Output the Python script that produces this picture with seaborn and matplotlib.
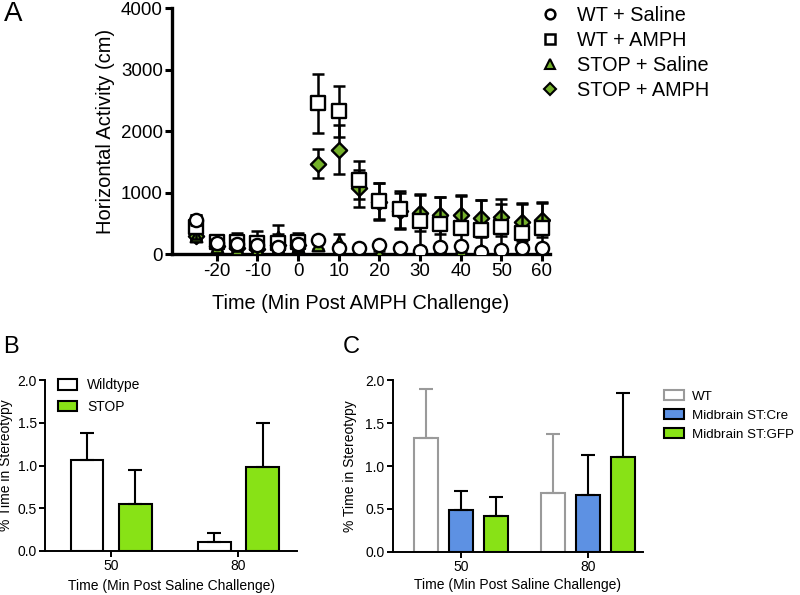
import matplotlib
matplotlib.use("Agg")
import matplotlib.pyplot as plt
import seaborn as sns
import pandas as pd
from matplotlib.lines import Line2D

sns.set_theme(style="ticks")
plt.rcParams['font.family'] = ['Liberation Sans', 'DejaVu Sans']
plt.rcParams['axes.unicode_minus'] = False
for key in ["text.color", "axes.labelcolor", "xtick.color", "ytick.color", "axes.edgecolor"]:
    plt.rcParams[key] = "black"

# ---- Panel A data (horizontal activity, cm) ----
time_min = [-25, -20, -15, -10, -5, 0, 5, 10, 15, 20, 25, 30, 35, 40, 45, 50, 55, 60]
wt_saline = [560, 180, 170, 140, 110, 170, 225, 100, 100, 150, 100, 50, 110, 130, 30, 65, 100, 100]
wt_saline_err = [80, 60, 60, 60, 60, 60, 40, 60, 30, 40, 30, 30, 30, 40, 30, 40, 40, 40]
wt_amph = [440, 200, 200, 180, 180, 200, 2450, 2320, 1200, 860, 730, 540, 490, 420, 390, 440, 340, 420]
wt_amph_err = [200, 100, 150, 190, 150, 150, 480, 420, 310, 290, 300, 420, 440, 530, 490, 370, 490, 410]
stop_saline = [300, 120, 80, 90, 270, 120, 150, 200, 80, 20, 60, 60, 80, 70, 60, 70, 80, 80]
stop_saline_err = [60, 60, 60, 60, 200, 60, 60, 120, 40, 30, 40, 40, 40, 40, 40, 40, 40, 40]
stop_amph = [290, 130, 100, 90, 150, 150, 1470, 1700, 1070, 850, 700, 670, 630, 640, 580, 600, 520, 560]
stop_amph_err = [60, 100, 80, 80, 100, 100, 240, 400, 300, 300, 300, 300, 300, 320, 300, 300, 300, 280]

# ---- Panel B data (% time in stereotypy) ----
b_times = ["50", "80"]
b_groups = ["Wildtype", "STOP"]
b_wt = [1.07, 0.10]
b_wt_err = [0.31, 0.11]
b_stop = [0.55, 0.98]
b_stop_err = [0.40, 0.52]

# ---- Panel C data ----
c_times = ["50", "80"]
c_groups = ["WT", "Midbrain ST:Cre", "Midbrain ST:GFP"]
c_wt = [1.33, 0.69]
c_wt_err = [0.57, 0.68]
c_cre = [0.49, 0.66]
c_cre_err = [0.22, 0.47]
c_gfp = [0.42, 1.10]
c_gfp_err = [0.22, 0.75]

green_a = "#74b02a"
green = "#88e216"
blue = "#5d91e3"
grey = "#9a9a9a"

fig = plt.figure(figsize=(8, 5.95), dpi=100)

# ================= Panel A =================
axA = fig.add_axes([0.215, 0.573, 0.4725, 0.4134])
series = [
    ("STOP + AMPH", stop_amph, stop_amph_err, "D", green_a, 60),
    ("STOP + Saline", stop_saline, stop_saline_err, "^", green_a, 70),
    ("WT + AMPH", wt_amph, wt_amph_err, "s", "white", 95),
    ("WT + Saline", wt_saline, wt_saline_err, "o", "white", 90),
]
for i, (name, vals, errs, mk, fc, sz) in enumerate(series):
    axA.errorbar(time_min, vals, yerr=errs, fmt="none", ecolor="black",
                 elinewidth=1.8, capsize=4.5, capthick=1.8, zorder=2 + i)
    df = pd.DataFrame({"t": time_min, "v": vals})
    sns.scatterplot(data=df, x="t", y="v", marker=mk, color=fc, s=sz,
                    edgecolor="black", linewidth=1.7, ax=axA, zorder=2.5 + i)

axA.set_xlim(-31, 62)
axA.set_ylim(0, 4000)
axA.set_xticks(range(-20, 61, 10))
axA.set_yticks(range(0, 4001, 1000))
axA.set_xlabel("Time (Min Post AMPH Challenge)", fontsize=14.3, labelpad=10)
axA.set_ylabel("Horizontal Activity (cm)", fontsize=14.5, labelpad=4)
axA.tick_params(labelsize=13.5, width=2.2, length=5, pad=1.5)
for side in ["top", "right"]:
    axA.spines[side].set_visible(False)
for side in ["left", "bottom"]:
    axA.spines[side].set_linewidth(2.4)

handles = [
    Line2D([], [], ls="none", marker="o", mfc="white", mec="black", mew=1.8, ms=7),
    Line2D([], [], ls="none", marker="s", mfc="white", mec="black", mew=1.8, ms=7),
    Line2D([], [], ls="none", marker="^", mfc=green_a, mec="black", mew=1.5, ms=7),
    Line2D([], [], ls="none", marker="D", mfc=green_a, mec="black", mew=1.5, ms=6),
]
fig.legend(handles, ["WT + Saline", "WT + AMPH", "STOP + Saline", "STOP + AMPH"],
           loc="upper left", bbox_to_anchor=(0.65, 1.02), frameon=False,
           fontsize=14.3, handletextpad=0.75, labelspacing=0.3, handlelength=1.2)

fig.text(0.005, 0.999, "A", fontsize=20, va="top")

# ================= Panel B =================
axB = fig.add_axes([0.05625, 0.074, 0.315, 0.287])
dfB = pd.DataFrame({
    "time": b_times * 2,
    "group": [b_groups[0]] * 2 + [b_groups[1]] * 2,
    "value": b_wt + b_stop,
})
sns.barplot(data=dfB, x="time", y="value", hue="group", hue_order=b_groups,
            palette={"Wildtype": "white", "STOP": green}, edgecolor="black",
            linewidth=1.5, width=0.76, gap=0.32, saturation=1, errorbar=None,
            legend=False, ax=axB)
for cont, errs in zip(axB.containers, [b_wt_err, b_stop_err]):
    for bar, e in zip(cont, errs):
        xc = bar.get_x() + bar.get_width() / 2
        axB.errorbar(xc, bar.get_height(), yerr=[[0], [e]], fmt="none", ecolor="black",
                     elinewidth=1.5, capsize=5, capthick=1.5, zorder=1)
axB.set_xlim(-0.52, 1.46)
axB.set_ylim(0, 2.0)
axB.set_yticks([0, 0.5, 1.0, 1.5, 2.0])
axB.set_yticklabels(["0.0", "0.5", "1.0", "1.5", "2.0"])
axB.set_xlabel("Time (Min Post Saline Challenge)", fontsize=10, labelpad=4)
axB.set_ylabel("% Time in Stereotypy", fontsize=10, labelpad=3)
axB.tick_params(labelsize=10, width=1.4, length=4, pad=2)
sns.despine(ax=axB)
for side in ["left", "bottom"]:
    axB.spines[side].set_linewidth(1.4)
axB.legend(axB.containers, b_groups, loc="upper left", bbox_to_anchor=(0.0, 1.085),
           frameon=False, fontsize=10, handlelength=1.4, handleheight=0.8,
           labelspacing=0.55, handletextpad=0.75)
fig.text(0.004, 0.435, "B", fontsize=17, va="top")

# ================= Panel C =================
axC = fig.add_axes([0.491, 0.0723, 0.3125, 0.289])
dfC = pd.DataFrame({
    "time": c_times * 3,
    "group": [g for g in c_groups for _ in c_times],
    "value": c_wt + c_cre + c_gfp,
})
sns.barplot(data=dfC, x="time", y="value", hue="group", hue_order=c_groups,
            palette={"WT": "white", "Midbrain ST:Cre": blue, "Midbrain ST:GFP": green},
            edgecolor="black", linewidth=1.5, width=0.825, gap=0.31, saturation=1,
            errorbar=None, legend=False, ax=axC)
for bar in axC.containers[0]:
    bar.set_edgecolor(grey)
for cont, errs, ec in zip(axC.containers, [c_wt_err, c_cre_err, c_gfp_err],
                          [grey, "black", "black"]):
    for bar, e in zip(cont, errs):
        xc = bar.get_x() + bar.get_width() / 2
        axC.errorbar(xc, bar.get_height(), yerr=[[0], [e]], fmt="none", ecolor=ec,
                     elinewidth=1.5, capsize=5, capthick=1.5, zorder=1)
axC.set_xlim(-0.54, 1.43)
axC.set_ylim(0, 2.0)
axC.set_yticks([0, 0.5, 1.0, 1.5, 2.0])
axC.set_yticklabels(["0.0", "0.5", "1.0", "1.5", "2.0"])
axC.set_xlabel("Time (Min Post Saline Challenge)", fontsize=10, labelpad=3)
axC.set_ylabel("% Time in Stereotypy", fontsize=10, labelpad=6)
axC.tick_params(labelsize=10, width=1.4, length=4, pad=2)
sns.despine(ax=axC)
for side in ["left", "bottom"]:
    axC.spines[side].set_linewidth(1.4)
fig.legend(axC.containers, c_groups, loc="upper left", bbox_to_anchor=(0.815, 0.364),
           frameon=False, fontsize=9.6, handlelength=1.5, handleheight=0.7,
           labelspacing=0.5, handletextpad=0.6)
fig.text(0.428, 0.436, "C", fontsize=17, va="top")

fig.savefig("out.png", dpi=100)
